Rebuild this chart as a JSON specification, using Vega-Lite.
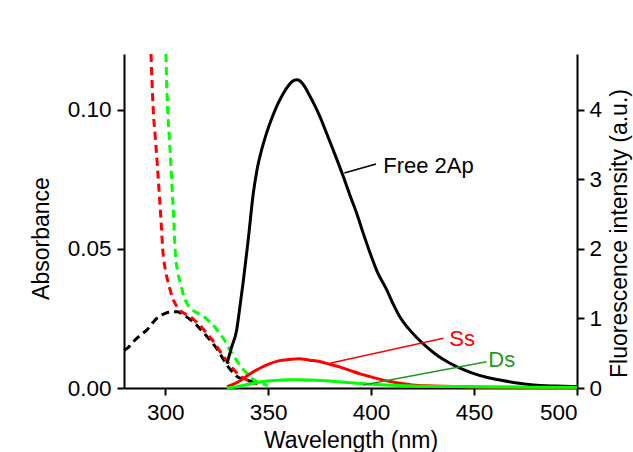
{
  "$schema": "https://vega.github.io/schema/vega-lite/v6.json",
  "width": 453,
  "height": 334,
  "autosize": {"type": "none"},
  "padding": {"left": 124, "top": 54, "right": 56, "bottom": 64},
  "background": "white",
  "config": {
    "font": "Liberation Sans",
    "view": {"stroke": null},
    "axis": {
      "grid": false,
      "domainColor": "black",
      "domainWidth": 2,
      "tickColor": "black",
      "tickWidth": 2,
      "tickSize": 7,
      "labelFont": "Liberation Sans",
      "titleFont": "Liberation Sans",
      "labelFontSize": 22.5,
      "labelColor": "black",
      "titleFontSize": 23,
      "titleFontWeight": "normal",
      "titleColor": "black"
    }
  },
  "datasets": {
    "abs": [
      {"series": "free", "wl": 280, "a": 0.0135},
      {"series": "free", "wl": 282, "a": 0.0145},
      {"series": "free", "wl": 285, "a": 0.017},
      {"series": "free", "wl": 288, "a": 0.019},
      {"series": "free", "wl": 291, "a": 0.0208},
      {"series": "free", "wl": 294, "a": 0.0235},
      {"series": "free", "wl": 297, "a": 0.0257},
      {"series": "free", "wl": 300, "a": 0.0268},
      {"series": "free", "wl": 303, "a": 0.0274},
      {"series": "free", "wl": 306, "a": 0.0274},
      {"series": "free", "wl": 309, "a": 0.0262},
      {"series": "free", "wl": 312.5, "a": 0.0244},
      {"series": "free", "wl": 315, "a": 0.0228},
      {"series": "free", "wl": 317.5, "a": 0.0208},
      {"series": "free", "wl": 320, "a": 0.0188},
      {"series": "free", "wl": 322.5, "a": 0.0166},
      {"series": "free", "wl": 325, "a": 0.0142},
      {"series": "free", "wl": 327, "a": 0.0118},
      {"series": "free", "wl": 329, "a": 0.0095},
      {"series": "free", "wl": 331, "a": 0.0072},
      {"series": "free", "wl": 333, "a": 0.0055},
      {"series": "free", "wl": 335, "a": 0.0041},
      {"series": "free", "wl": 338, "a": 0.0032},
      {"series": "free", "wl": 341, "a": 0.0025},
      {"series": "free", "wl": 345, "a": 0.0015},
      {"series": "ss", "wl": 293.1, "a": 0.12},
      {"series": "ss", "wl": 293.6, "a": 0.11},
      {"series": "ss", "wl": 294.2, "a": 0.10},
      {"series": "ss", "wl": 295.2, "a": 0.09},
      {"series": "ss", "wl": 296.2, "a": 0.08},
      {"series": "ss", "wl": 297.1, "a": 0.07},
      {"series": "ss", "wl": 298, "a": 0.06},
      {"series": "ss", "wl": 298.8, "a": 0.05},
      {"series": "ss", "wl": 300.2, "a": 0.042},
      {"series": "ss", "wl": 301.8, "a": 0.037},
      {"series": "ss", "wl": 303.5, "a": 0.0325},
      {"series": "ss", "wl": 305.5, "a": 0.0295},
      {"series": "ss", "wl": 307.7, "a": 0.0275},
      {"series": "ss", "wl": 310, "a": 0.0265},
      {"series": "ss", "wl": 312.5, "a": 0.0254},
      {"series": "ss", "wl": 315, "a": 0.0238},
      {"series": "ss", "wl": 317.5, "a": 0.022},
      {"series": "ss", "wl": 320, "a": 0.0198},
      {"series": "ss", "wl": 322.5, "a": 0.0176},
      {"series": "ss", "wl": 325, "a": 0.015},
      {"series": "ss", "wl": 327.5, "a": 0.0122},
      {"series": "ss", "wl": 330, "a": 0.0097},
      {"series": "ss", "wl": 332.5, "a": 0.0073},
      {"series": "ss", "wl": 335, "a": 0.0053},
      {"series": "ss", "wl": 337.5, "a": 0.0038},
      {"series": "ss", "wl": 340, "a": 0.0028},
      {"series": "ss", "wl": 342.5, "a": 0.002},
      {"series": "ss", "wl": 345, "a": 0.0015},
      {"series": "ds", "wl": 300.4, "a": 0.12},
      {"series": "ds", "wl": 300.7, "a": 0.11},
      {"series": "ds", "wl": 301.2, "a": 0.10},
      {"series": "ds", "wl": 302, "a": 0.09},
      {"series": "ds", "wl": 302.8, "a": 0.08},
      {"series": "ds", "wl": 303.5, "a": 0.07},
      {"series": "ds", "wl": 304.2, "a": 0.06},
      {"series": "ds", "wl": 304.8, "a": 0.05},
      {"series": "ds", "wl": 306, "a": 0.042},
      {"series": "ds", "wl": 307.7, "a": 0.037},
      {"series": "ds", "wl": 309, "a": 0.033},
      {"series": "ds", "wl": 310.5, "a": 0.0305},
      {"series": "ds", "wl": 313, "a": 0.0282},
      {"series": "ds", "wl": 316, "a": 0.0268},
      {"series": "ds", "wl": 319, "a": 0.0255},
      {"series": "ds", "wl": 322, "a": 0.0235},
      {"series": "ds", "wl": 324, "a": 0.022},
      {"series": "ds", "wl": 326.5, "a": 0.0195},
      {"series": "ds", "wl": 329, "a": 0.017},
      {"series": "ds", "wl": 331, "a": 0.0142},
      {"series": "ds", "wl": 333, "a": 0.0118},
      {"series": "ds", "wl": 335.2, "a": 0.0094},
      {"series": "ds", "wl": 337, "a": 0.0075},
      {"series": "ds", "wl": 339, "a": 0.0058},
      {"series": "ds", "wl": 341, "a": 0.0042},
      {"series": "ds", "wl": 343.3, "a": 0.0028},
      {"series": "ds", "wl": 346, "a": 0.0018},
      {"series": "ds", "wl": 349.8, "a": 0.001}
    ],
    "fl": [
      {"series": "free", "wl": 330, "f": 0.35},
      {"series": "free", "wl": 332.3, "f": 0.59},
      {"series": "free", "wl": 334.7, "f": 0.83},
      {"series": "free", "wl": 336.3, "f": 1.17},
      {"series": "free", "wl": 338, "f": 1.55},
      {"series": "free", "wl": 340.4, "f": 2.15},
      {"series": "free", "wl": 342.8, "f": 2.8},
      {"series": "free", "wl": 344.5, "f": 3.12},
      {"series": "free", "wl": 347, "f": 3.44},
      {"series": "free", "wl": 349.3, "f": 3.67},
      {"series": "free", "wl": 352.5, "f": 3.93},
      {"series": "free", "wl": 355, "f": 4.10},
      {"series": "free", "wl": 357.5, "f": 4.24},
      {"series": "free", "wl": 360, "f": 4.35},
      {"series": "free", "wl": 362.5, "f": 4.42},
      {"series": "free", "wl": 364, "f": 4.43},
      {"series": "free", "wl": 366, "f": 4.40},
      {"series": "free", "wl": 368, "f": 4.32},
      {"series": "free", "wl": 370, "f": 4.21},
      {"series": "free", "wl": 372.5, "f": 4.07},
      {"series": "free", "wl": 375, "f": 3.91},
      {"series": "free", "wl": 378, "f": 3.69},
      {"series": "free", "wl": 381.6, "f": 3.42},
      {"series": "free", "wl": 386.5, "f": 3.04},
      {"series": "free", "wl": 390, "f": 2.75},
      {"series": "free", "wl": 393, "f": 2.51},
      {"series": "free", "wl": 396, "f": 2.24},
      {"series": "free", "wl": 399.5, "f": 1.94},
      {"series": "free", "wl": 403, "f": 1.67},
      {"series": "free", "wl": 407.6, "f": 1.41},
      {"series": "free", "wl": 411, "f": 1.19},
      {"series": "free", "wl": 414, "f": 1.02},
      {"series": "free", "wl": 418, "f": 0.86},
      {"series": "free", "wl": 422, "f": 0.73},
      {"series": "free", "wl": 427, "f": 0.59},
      {"series": "free", "wl": 432, "f": 0.47},
      {"series": "free", "wl": 438.3, "f": 0.355},
      {"series": "free", "wl": 444, "f": 0.275},
      {"series": "free", "wl": 449.6, "f": 0.21},
      {"series": "free", "wl": 456, "f": 0.155},
      {"series": "free", "wl": 462.6, "f": 0.115},
      {"series": "free", "wl": 470, "f": 0.075},
      {"series": "free", "wl": 478.8, "f": 0.043},
      {"series": "free", "wl": 490, "f": 0.028},
      {"series": "free", "wl": 500, "f": 0.02},
      {"series": "ss", "wl": 330, "f": 0.02},
      {"series": "ss", "wl": 335, "f": 0.08},
      {"series": "ss", "wl": 340, "f": 0.18},
      {"series": "ss", "wl": 345, "f": 0.27},
      {"series": "ss", "wl": 350, "f": 0.34},
      {"series": "ss", "wl": 355, "f": 0.39},
      {"series": "ss", "wl": 360, "f": 0.41},
      {"series": "ss", "wl": 365, "f": 0.42},
      {"series": "ss", "wl": 370, "f": 0.40},
      {"series": "ss", "wl": 375, "f": 0.38},
      {"series": "ss", "wl": 380, "f": 0.34},
      {"series": "ss", "wl": 385, "f": 0.30},
      {"series": "ss", "wl": 390, "f": 0.25},
      {"series": "ss", "wl": 395, "f": 0.20},
      {"series": "ss", "wl": 400, "f": 0.16},
      {"series": "ss", "wl": 405, "f": 0.12},
      {"series": "ss", "wl": 410, "f": 0.09},
      {"series": "ss", "wl": 415, "f": 0.065},
      {"series": "ss", "wl": 420, "f": 0.045},
      {"series": "ss", "wl": 430, "f": 0.03},
      {"series": "ss", "wl": 440, "f": 0.02},
      {"series": "ss", "wl": 460, "f": 0.01},
      {"series": "ss", "wl": 480, "f": 0.008},
      {"series": "ss", "wl": 500, "f": 0.006},
      {"series": "ds", "wl": 330, "f": 0.0},
      {"series": "ds", "wl": 335, "f": 0.02},
      {"series": "ds", "wl": 340, "f": 0.05},
      {"series": "ds", "wl": 345, "f": 0.08},
      {"series": "ds", "wl": 350, "f": 0.10},
      {"series": "ds", "wl": 355, "f": 0.11},
      {"series": "ds", "wl": 360, "f": 0.12},
      {"series": "ds", "wl": 365, "f": 0.12},
      {"series": "ds", "wl": 370, "f": 0.115},
      {"series": "ds", "wl": 380, "f": 0.10},
      {"series": "ds", "wl": 390, "f": 0.075},
      {"series": "ds", "wl": 400, "f": 0.055},
      {"series": "ds", "wl": 410, "f": 0.04},
      {"series": "ds", "wl": 420, "f": 0.03},
      {"series": "ds", "wl": 440, "f": 0.02},
      {"series": "ds", "wl": 460, "f": 0.015},
      {"series": "ds", "wl": 480, "f": 0.012},
      {"series": "ds", "wl": 500, "f": 0.01}
    ],
    "notes": [
      {"label": "Free 2Ap", "x1": 387.0, "y1": 3.09, "x2": 402.4, "y2": 3.22, "tx": 405.9, "ty": 3.086},
      {"label": "Ss", "x1": 380.0, "y1": 0.355, "x2": 435.1, "y2": 0.714, "tx": 438.0, "ty": 0.60},
      {"label": "Ds", "x1": 396.2, "y1": 0.043, "x2": 456.1, "y2": 0.378, "tx": 456.9, "ty": 0.306}
    ]
  },
  "layer": [
    {
      "data": {"name": "abs"},
      "mark": {"type": "line", "strokeDash": [8, 5], "strokeWidth": 3, "interpolate": "monotone"},
      "encoding": {
        "x": {
          "field": "wl", "type": "quantitative", "title": "Wavelength (nm)",
          "scale": {"domain": [280, 500], "nice": false, "zero": false},
          "axis": {"orient": "bottom", "values": [300, 350, 400, 450, 500], "format": "d", "labelPadding": 6, "titleY": 59, "titleBaseline": "alphabetic"}
        },
        "y": {
          "field": "a", "type": "quantitative", "title": "Absorbance",
          "scale": {"domain": [0, 0.12], "nice": false},
          "axis": {"orient": "left", "values": [0, 0.05, 0.1], "format": ".2f", "labelPadding": 6, "titleX": -83, "titleY": 184, "titleAngle": -90, "titleAlign": "center", "titleBaseline": "middle"}
        },
        "color": {
          "field": "series", "type": "nominal", "legend": null,
          "scale": {"domain": ["free", "ss", "ds", "Free 2Ap", "Ss", "Ds"], "range": ["#000000", "#ff0000", "#00ff00", "#000000", "#ff0000", "#1f9a1f"]}
        }
      }
    },
    {
      "layer": [
        {
          "data": {"name": "fl"},
          "mark": {"type": "line", "strokeWidth": 3, "interpolate": "monotone"},
          "encoding": {
            "x": {"field": "wl", "type": "quantitative", "title": "Wavelength (nm)"},
            "y": {
              "field": "f", "type": "quantitative", "title": "Fluorescence intensity (a.u.)",
              "scale": {"domain": [0, 4.8], "nice": false},
              "axis": {"orient": "right", "values": [0, 1, 2, 3, 4], "format": "d", "labelPadding": 5, "tickSize": 7, "titleX": 49, "titleY": 179, "titleAngle": -90, "titleAlign": "center", "titleBaseline": "alphabetic"}
            },
            "color": {"field": "series", "type": "nominal", "legend": null}
          }
        },
        {
          "data": {"name": "notes"},
          "mark": {"type": "rule", "strokeWidth": 1.5},
          "encoding": {
            "x": {"field": "x1", "type": "quantitative", "title": "Wavelength (nm)"},
            "x2": {"field": "x2"},
            "y": {"field": "y1", "type": "quantitative", "title": "Fluorescence intensity (a.u.)"},
            "y2": {"field": "y2"},
            "color": {"field": "label", "type": "nominal", "legend": null}
          }
        },
        {
          "data": {"name": "notes"},
          "mark": {"type": "text", "align": "left", "baseline": "alphabetic", "fontSize": 22, "font": "Liberation Sans"},
          "encoding": {
            "x": {"field": "tx", "type": "quantitative", "title": "Wavelength (nm)"},
            "y": {"field": "ty", "type": "quantitative", "title": "Fluorescence intensity (a.u.)"},
            "text": {"field": "label"},
            "color": {"field": "label", "type": "nominal", "legend": null}
          }
        }
      ]
    }
  ],
  "resolve": {"scale": {"y": "independent"}}
}
